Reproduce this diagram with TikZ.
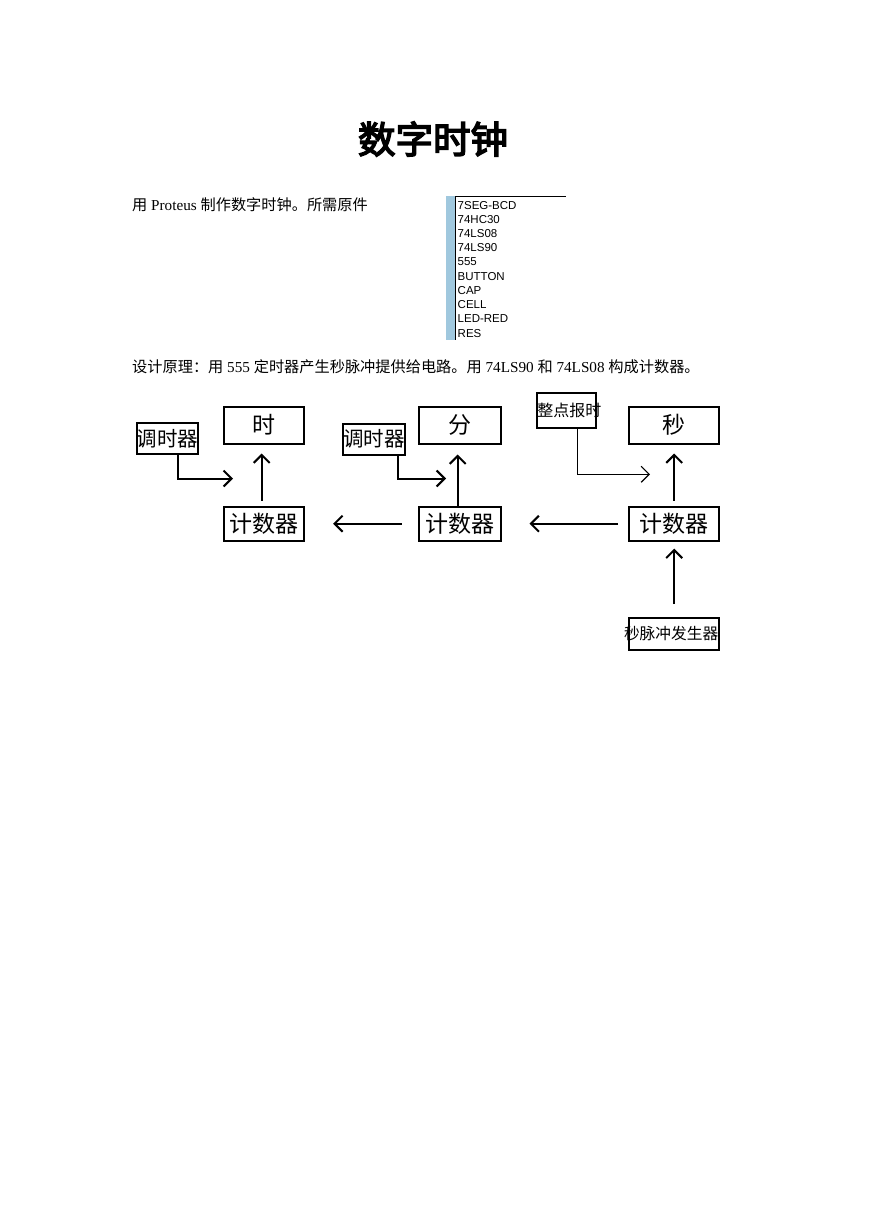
\documentclass[tikz,border=0pt]{standalone}
\usepackage{fontspec}
\setmainfont{Liberation Serif}
\newfontfamily\cjk{Noto Sans CJK SC}
\newfontfamily\cjktitle{Noto Sans CJK SC}[FakeBold=4]
\newfontfamily\lsans{Liberation Sans}
\usetikzlibrary{arrows.meta}
\definecolor{stripblue}{RGB}{160,200,222}
\begin{document}
\begin{tikzpicture}[x=1pt,y=-1pt,
  box/.style={draw, line width=2pt, inner sep=0pt},
  arr/.style={line width=2pt, -{Straight Barb[length=8pt,width=16pt]}},
  thinarr/.style={line width=1.2pt, -{Straight Barb[length=8pt,width=16pt]}},
  txt/.style={inner sep=0pt, anchor=base west},
  listitem/.style={inner sep=0pt, anchor=base west, font=\lsans\fontsize{11.5}{12}\selectfont},
]
\useasboundingbox[fill=white] (0,0) rectangle (869,1228);

% title
\node[inner sep=0pt, font=\cjktitle\fontsize{37.5}{38}\selectfont] (title) at (433,139) {数字时钟};

% paragraphs
\node[txt, font=\fontsize{15.2}{16}\selectfont] (p1) at (132,210.5) {{\cjk 用} Proteus {\cjk 制作数字时钟。所需原件}};
\node[txt, font=\fontsize{15.2}{16}\selectfont] (p2) at (132,372.5) {{\cjk 设计原理：用} 555 {\cjk 定时器产生秒脉冲提供给电路。用} 74LS90 {\cjk 和} 74LS08 {\cjk 构成计数器。}};

% component list
\fill[stripblue] (446,196) rectangle (455,340);
\draw[line width=1.2pt] (455.6,196) -- (455.6,340);
\draw[line width=1.2pt] (455,196.6) -- (566,196.6);
\foreach \t [count=\i] in {7SEG-BCD,74HC30,74LS08,74LS90,555,BUTTON,CAP,CELL,LED-RED,RES}
  \node[listitem] (l\i) at (457.5,{209.1+14.22*(\i-1)}) {\t};

% boxes
\node[box, minimum width=60pt, minimum height=31pt, font=\cjk\fontsize{20.5}{21}\selectfont] (t1) at (167.5,438.7) {调时器};
\node[box, minimum width=80pt, minimum height=37pt, font=\cjk\fontsize{23}{24}\selectfont] (hr) at (264.2,425) {时};
\node[box, minimum width=80pt, minimum height=34pt, font=\cjk\fontsize{23}{24}\selectfont] (c1) at (264.2,523.7) {计数器};
\node[box, minimum width=62pt, minimum height=31pt, font=\cjk\fontsize{20.5}{21}\selectfont] (t2) at (373.8,439) {调时器};
\node[box, minimum width=82pt, minimum height=37pt, font=\cjk\fontsize{23}{24}\selectfont] (mn) at (459.5,425) {分};
\node[box, minimum width=82pt, minimum height=34pt, font=\cjk\fontsize{23}{24}\selectfont] (c2) at (459.5,523.7) {计数器};
\node[box, minimum width=59pt, minimum height=35pt, font=\cjk\fontsize{16}{16}\selectfont] (zd) at (566.3,410.7) {\makebox[58pt][l]{整点报时}};
\node[box, minimum width=90pt, minimum height=37pt, font=\cjk\fontsize{23}{24}\selectfont] (sc) at (674.2,425) {秒};
\node[box, minimum width=90pt, minimum height=34pt, font=\cjk\fontsize{23}{24}\selectfont] (c3) at (674.2,523.7) {计数器};
\node[box, minimum width=90pt, minimum height=32pt, font=\cjk\fontsize{15.7}{16}\selectfont] (gen) at (674.2,634) {\makebox[88pt][r]{秒脉冲发生器}};

% free ends
\coordinate (e1) at (233,478.5);
\coordinate (e2) at (446,478.5);
\coordinate (e3) at (650,474.3);

% connectors
\draw[arr] ([xshift=10.8pt]t1.south) |- (e1);
\draw[arr] ([xshift=24.5pt]t2.south) |- (e2);
\draw[thinarr] ([xshift=11pt]zd.south) |- (e3);
\draw[arr, shorten <=5pt, shorten >=9pt] ([xshift=-2.5pt]c1.north) -- ([xshift=-2.5pt]hr.south);
\draw[arr, shorten >=10pt] ([xshift=-1.8pt]c2.north) -- ([xshift=-1.8pt]mn.south);
\draw[arr, shorten <=5pt, shorten >=9pt] (c3.north) -- (sc.south);
\draw[arr, shorten <=16pt, shorten >=28pt] (c2.west) -- (c1.east);
\draw[arr, shorten <=10pt, shorten >=28pt] (c3.west) -- (c2.east);
\draw[arr, shorten <=13pt, shorten >=7pt] (gen.north) -- (c3.south);
\end{tikzpicture}
\end{document}
